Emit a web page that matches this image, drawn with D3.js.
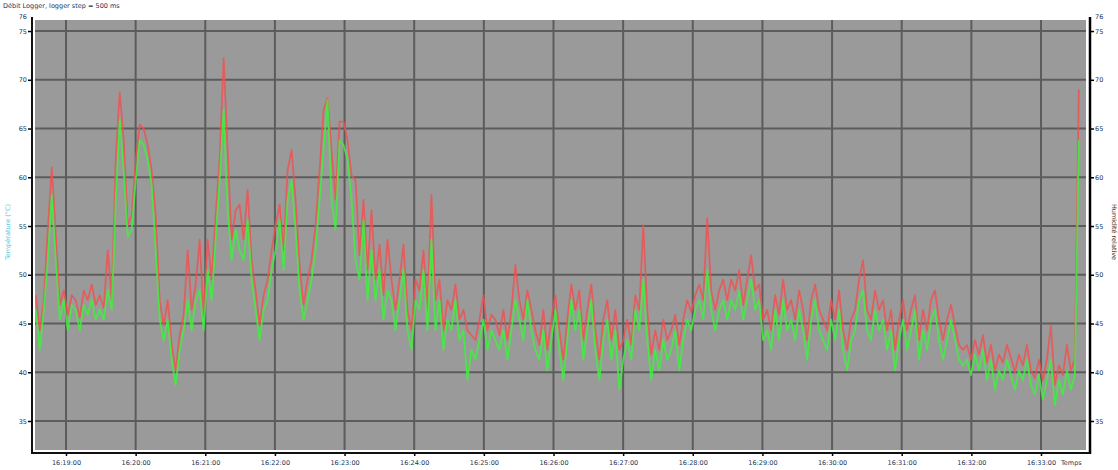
<!DOCTYPE html>
<html>
<head>
<meta charset="utf-8">
<script src="https://cdn.jsdelivr.net/npm/d3@7"></script>
<style>
  html, body { margin: 0; padding: 0; background: #ffffff; }
  svg { display: block; }
  text { font-family: "DejaVu Sans", sans-serif; }
</style>
</head>
<body>
<svg id="chart" width="1118" height="470"></svg>
<script>
// ---------------- data ----------------
const chartTitle = "Débit Logger, logger step = 500 ms";
const leftAxisTitle = "Température (°C)";
const rightAxisTitle = "Humidité relative";
const xAxisTitle = "Temps";

const startTime = "16:18:34";      // first sample
const sampleStepSeconds = 3.443;   // time between samples
const domainStart = "16:18:33.3";
const domainEnd = "16:33:40.5";

const xTickLabels = ["16:19:00","16:20:00","16:21:00","16:22:00","16:23:00","16:24:00","16:25:00",
  "16:26:00","16:27:00","16:28:00","16:29:00","16:30:00","16:31:00","16:32:00","16:33:00"];
const yTickValues = [35, 40, 45, 50, 55, 60, 65, 70, 75];
const yDomain = [31.82, 76.44];

const seriesRed = [
  47.9,44.3,47.4,54.6,61.0,54.1,46.9,48.4,45.9,47.9,47.4,45.6,48.4,47.4,49.0,46.9,47.9,46.6,52.5,47.4,
  61.8,68.7,63.8,55.1,56.1,61.8,65.4,65.0,63.3,60.7,56.1,47.4,44.8,47.4,42.8,40.2,43.8,45.9,52.5,46.4,
  49.0,53.6,45.9,53.6,49.5,56.1,61.8,72.2,62.8,53.6,56.6,57.2,53.6,58.7,51.5,48.4,44.8,47.9,49.5,52.5,
  55.1,57.2,52.5,60.7,62.8,57.7,51.0,46.9,49.5,51.5,55.1,60.7,66.9,68.1,62.8,57.7,65.7,65.7,63.8,60.2,
  59.7,52.0,57.7,50.5,56.6,49.5,53.1,47.9,53.6,49.5,46.4,49.5,53.1,46.4,44.3,49.5,48.4,52.5,46.4,58.2,
  47.4,49.5,44.3,47.4,46.4,49.0,45.4,46.4,44.3,43.8,43.3,45.4,47.9,44.3,45.9,45.4,43.8,46.4,43.3,46.4,
  51.0,47.4,45.4,48.4,46.4,44.3,42.8,46.4,42.3,45.4,47.9,44.3,41.3,45.4,49.0,46.4,48.4,43.3,46.4,49.0,
  44.3,41.3,45.4,47.4,43.3,46.4,42.3,43.3,45.4,42.8,47.9,46.4,55.1,46.4,41.8,44.3,42.3,45.4,43.3,44.3,
  45.9,42.8,45.4,47.4,46.2,47.9,49.0,47.4,55.8,48.4,46.4,48.4,49.5,47.4,49.5,48.4,50.5,46.9,49.5,52.0,
  48.4,49.0,45.4,46.4,44.3,47.9,45.9,49.5,46.4,47.4,45.4,48.4,46.4,43.3,47.4,49.0,46.4,45.4,44.3,47.4,
  45.4,48.4,44.3,42.3,45.4,46.4,49.5,51.5,46.4,45.4,48.4,46.4,47.4,44.3,46.4,42.3,45.4,47.4,44.3,46.4,
  47.9,43.3,46.4,44.3,47.4,48.4,45.4,43.3,45.4,46.9,44.8,42.8,42.3,42.8,41.3,43.3,41.8,43.8,41.0,42.8,
  40.2,41.8,41.0,42.8,41.5,40.0,41.8,40.7,42.8,40.2,39.4,41.3,39.2,41.3,44.8,38.7,40.7,39.7,42.8,40.2,
  41.3,69.0
];

const seriesGreen = [
  46.4,42.3,46.4,51.5,58.2,51.5,45.4,47.4,44.3,46.9,46.4,44.3,46.9,45.9,47.4,45.4,46.4,45.4,48.4,46.4,
  57.7,65.9,60.7,53.9,54.6,59.7,63.8,63.3,61.8,59.2,52.5,45.4,43.3,45.4,41.3,38.7,42.3,44.3,47.4,44.3,
  47.4,48.4,44.3,50.5,47.4,53.6,59.7,66.9,56.6,51.5,54.6,52.5,51.5,55.6,49.5,46.4,43.3,46.4,47.4,50.5,
  52.5,55.6,50.5,57.7,59.7,54.6,48.4,45.4,47.4,49.5,52.5,57.7,62.8,67.9,57.7,54.6,63.8,63.3,61.8,57.7,
  51.5,49.5,55.6,47.4,52.5,47.4,50.5,45.4,48.4,47.4,44.3,47.4,50.5,44.3,42.3,47.4,46.4,50.5,44.3,53.6,
  44.3,47.4,42.3,45.4,44.3,47.4,43.3,44.3,39.2,42.3,41.3,43.3,45.4,42.3,44.3,43.3,42.3,44.3,41.3,44.3,
  47.4,45.4,43.3,47.4,44.3,42.3,41.3,44.3,40.2,43.3,46.4,42.3,39.2,43.3,47.4,44.3,46.4,41.3,44.3,47.4,
  42.3,39.2,43.3,45.4,41.3,44.3,38.2,41.3,43.3,41.3,46.4,44.3,49.5,43.3,39.2,42.3,40.2,43.3,41.3,42.3,
  44.3,40.2,43.3,45.4,44.3,46.4,47.4,45.4,50.5,46.4,44.3,46.4,47.4,45.4,47.4,46.4,48.4,45.4,47.4,49.5,
  46.4,47.4,43.3,44.3,42.3,46.4,43.3,47.4,44.3,45.4,43.3,46.4,44.3,41.3,45.4,47.4,44.3,43.3,42.3,45.4,
  43.3,46.4,42.3,40.2,43.3,44.3,47.4,48.4,44.3,43.3,46.4,44.3,45.4,42.3,44.3,40.2,43.3,45.4,42.3,44.3,
  46.4,41.3,44.3,42.3,45.4,46.4,43.3,41.3,43.3,45.4,43.3,41.3,40.7,41.3,39.7,41.8,40.2,42.3,39.2,41.3,
  38.2,40.2,39.2,41.3,39.7,38.2,40.2,39.2,41.3,38.7,37.7,39.7,37.2,39.2,41.3,36.6,39.2,37.7,40.2,38.2,
  39.7,63.8
];

// ---------------- layout ----------------
const svg = d3.select("#chart");
const plot = { left: 35, right: 1086, top: 20, bottom: 450 };
const axisLeftX = 32, axisRightX = 1090, axisBottomY = 453;

const parseT = d3.timeParse("%H:%M:%S");
const parseTms = d3.timeParse("%H:%M:%S.%L");
const t0 = parseT(startTime);

const x = d3.scaleTime()
  .domain([parseTms(domainStart + "00"), parseTms(domainEnd + "00")])
  .range([35, 1088]);
const y = d3.scaleLinear().domain(yDomain).range([452, 17]);

const times = seriesGreen.map((_, i) => new Date(t0.getTime() + i * sampleStepSeconds * 1000));
const xTicks = xTickLabels.map(s => parseT(s));

// defs
const defs = svg.append("defs");
const f = defs.append("filter").attr("id", "soft").attr("x", "-5%").attr("y", "-5%").attr("width", "110%").attr("height", "110%");
f.append("feGaussianBlur").attr("stdDeviation", 0.6);

// white frame / grey plot
svg.append("rect").attr("x", axisLeftX).attr("y", 17).attr("width", axisRightX - axisLeftX).attr("height", axisBottomY - 17).attr("fill", "#ffffff");
svg.append("rect").attr("x", plot.left).attr("y", plot.top)
  .attr("width", plot.right - plot.left).attr("height", plot.bottom - plot.top)
  .attr("fill", "#9a9a9a");

// grid
const grid = svg.append("g").attr("stroke", "#5c5c5c").attr("stroke-width", 2);
grid.selectAll("line.h").data(yTickValues).join("line")
  .attr("x1", plot.left).attr("x2", plot.right)
  .attr("y1", d => y(d)).attr("y2", d => y(d));
grid.selectAll("line.v").data(xTicks).join("line")
  .attr("x1", d => x(d)).attr("x2", d => x(d))
  .attr("y1", plot.top).attr("y2", plot.bottom);

// data lines
const clip = defs.append("clipPath").attr("id", "clip");
clip.append("rect").attr("x", plot.left).attr("y", plot.top).attr("width", plot.right - plot.left).attr("height", plot.bottom - plot.top);

const lineGen = d3.line().x((d, i) => x(times[i])).y(d => y(d));
const lines = svg.append("g").attr("clip-path", "url(#clip)").attr("filter", "url(#soft)");
lines.append("path").datum(seriesRed).attr("d", lineGen)
  .attr("fill", "none").attr("stroke", "#f25050").attr("stroke-width", 1.8).attr("stroke-opacity", 0.8)
  .attr("stroke-linejoin", "round");
lines.append("path").datum(seriesGreen).attr("d", lineGen)
  .attr("fill", "none").attr("stroke", "#3ef03e").attr("stroke-width", 1.8).attr("stroke-opacity", 0.85)
  .attr("stroke-linejoin", "round");

// axes
const leftAxis = d3.axisLeft(y).tickValues(yTickValues).tickSize(4).tickFormat(d3.format("d"));
const gL = svg.append("g").attr("transform", `translate(${axisLeftX},0)`).call(leftAxis);
gL.select(".domain").remove();
gL.selectAll("text").attr("font-size", 6.5).attr("fill", "#223355").attr("x", -5);
gL.selectAll("line").attr("stroke", "#000").attr("stroke-width", 1.5);

const rightAxis = d3.axisRight(y).tickValues(yTickValues).tickSize(4).tickFormat(d3.format("d"));
const gR = svg.append("g").attr("transform", `translate(${axisRightX},0)`).call(rightAxis);
gR.select(".domain").remove();
gR.selectAll("text").attr("font-size", 6.5).attr("fill", "#223355").attr("x", 5);
gR.selectAll("line").attr("stroke", "#000").attr("stroke-width", 1.5);

const bottomAxis = d3.axisBottom(x).tickValues(xTicks).tickSize(3).tickFormat(d3.timeFormat("%H:%M:%S"));
const gB = svg.append("g").attr("transform", `translate(0,${axisBottomY})`).call(bottomAxis);
gB.select(".domain").remove();
gB.selectAll("text").attr("font-size", 6.5).attr("fill", "#223355").attr("dy", "0.9em");
gB.selectAll("line").attr("stroke", "#000").attr("stroke-width", 1.5);

// axis lines
svg.append("line").attr("x1", axisLeftX).attr("x2", axisLeftX).attr("y1", 17).attr("y2", axisBottomY + 1)
  .attr("stroke", "#111").attr("stroke-width", 2);
svg.append("line").attr("x1", axisRightX).attr("x2", axisRightX).attr("y1", 17).attr("y2", axisBottomY + 1)
  .attr("stroke", "#000").attr("stroke-width", 2.5);
svg.append("line").attr("x1", axisLeftX).attr("x2", axisRightX).attr("y1", axisBottomY).attr("y2", axisBottomY)
  .attr("stroke", "#111").attr("stroke-width", 2);

// top labels at the axis ends
svg.append("text").attr("x", axisLeftX - 5).attr("y", y(yDomain[1]) + 2).attr("text-anchor", "end")
  .attr("font-size", 6.5).attr("fill", "#223355").text(d3.format("d")(yDomain[1]));
svg.append("text").attr("x", axisRightX + 5).attr("y", y(yDomain[1]) + 2).attr("text-anchor", "start")
  .attr("font-size", 6.5).attr("fill", "#223355").text(d3.format("d")(yDomain[1]));

// titles
svg.append("text").attr("x", 3).attr("y", 8).attr("font-size", 6.5).attr("fill", "#223355").text(chartTitle);
svg.append("text").attr("transform", "translate(10,232) rotate(-90)").attr("text-anchor", "middle")
  .attr("font-size", 6.5).attr("fill", "#5cc8e0").text(leftAxisTitle);
svg.append("text").attr("transform", "translate(1112,232) rotate(90)").attr("text-anchor", "middle")
  .attr("font-size", 6.5).attr("fill", "#553322").text(rightAxisTitle);
svg.append("text").attr("x", x(xTicks[xTicks.length - 1]) + 20).attr("y", axisBottomY + 12)
  .attr("font-size", 6.5).attr("fill", "#223355").text(xAxisTitle);
</script>
</body>
</html>
